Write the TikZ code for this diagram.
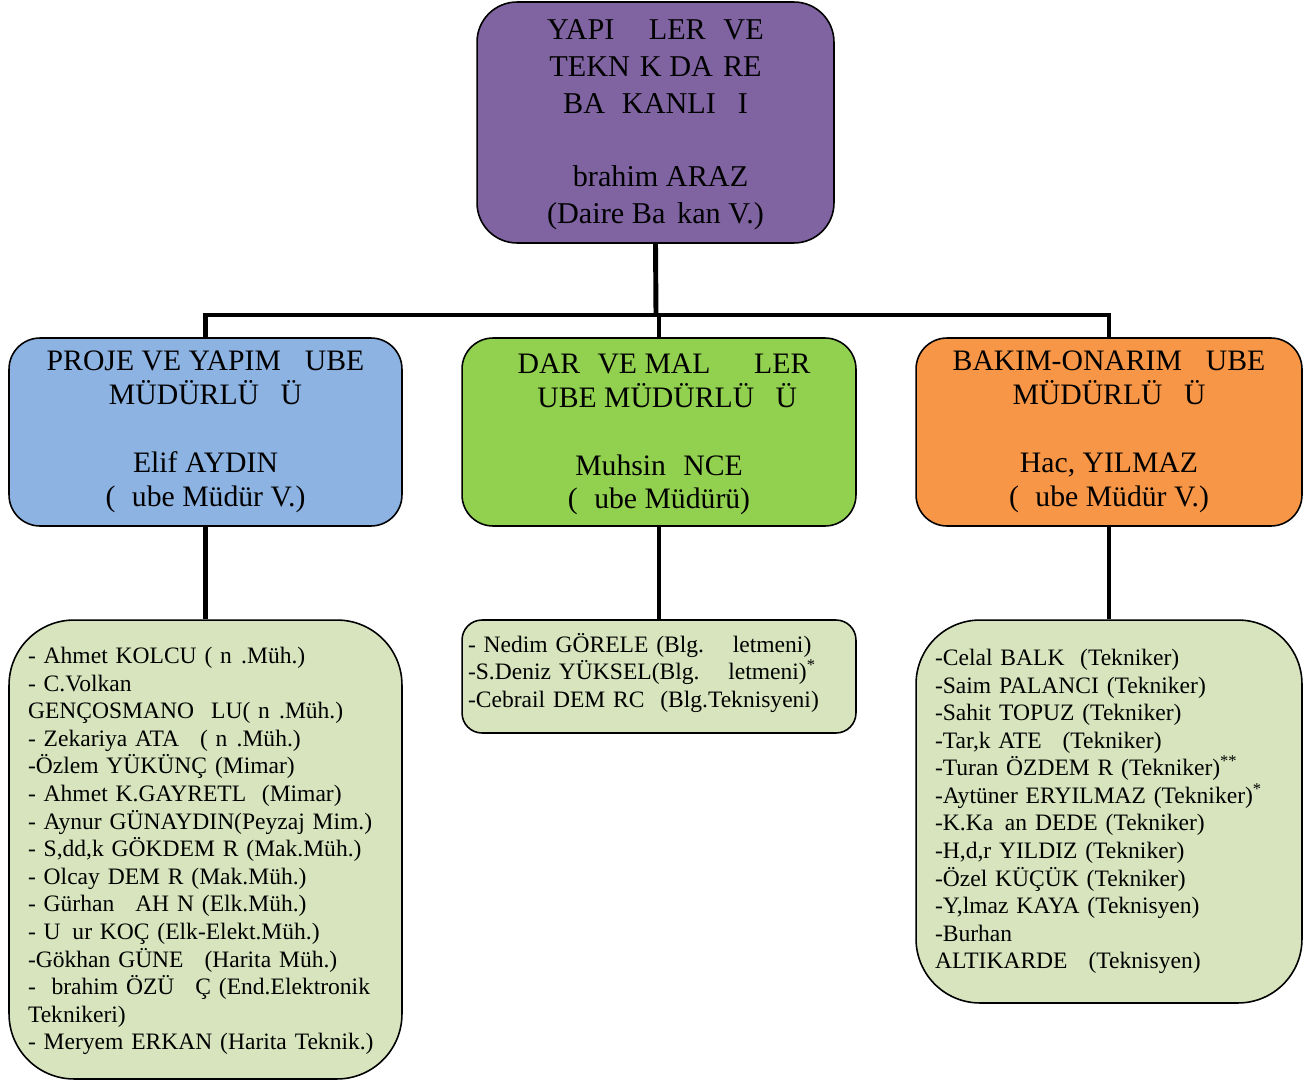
\documentclass[tikz,border=0pt]{standalone}
\usepackage{fontspec}
\setmainfont{Liberation Serif}
\usepackage{xcolor}
\usetikzlibrary{calc}
\definecolor{headviolet}{HTML}{8064A2}
\definecolor{projblue}{HTML}{8DB3E2}
\definecolor{admingreen}{HTML}{92D050}
\definecolor{repairorange}{HTML}{F79646}
\definecolor{staffolive}{HTML}{D7E4BD}
\newcommand{\miss}[1]{\phantom{#1}}
\newcommand{\fn}[1]{\textsuperscript{#1}}

\begin{document}
\begin{tikzpicture}[x=0.02cm,y=-0.02cm,
    unit/.style={draw=black,line width=0.9pt,inner sep=0pt,align=center,font=\fontsize{16.9}{19.3}\selectfont},
    staff/.style={draw=black,line width=0.9pt,fill=staffolive,inner sep=0pt,align=left,font=\fontsize{13.4}{15.7}\selectfont},
    link/.style={line width=2.8pt}]
    % page keeps the size of the chart
    \useasboundingbox (0,0) rectangle (1307,1081);

    % head of the department
    \node[unit,fill=headviolet,minimum width=7.14cm,minimum height=4.82cm,rounded corners=0.8cm,
          font=\fontsize{17.2}{20.9}\selectfont] (head) at (655.5,122.5)
        {YAPI \miss{İŞ}LER\miss{İ} VE\\
         TEKN\miss{İ}K DA\miss{İ}RE\\
         BA\miss{Ş}KANLI\miss{Ğ}I\\[20.9pt]
         \miss{İ}brahim ARAZ\\
         (Daire Ba\miss{ş}kan V.)};

    % the three branches
    \node[unit,fill=projblue,minimum width=7.86cm,minimum height=3.76cm,rounded corners=0.62cm] (proj) at (205.5,432)
        {PROJE VE YAPIM \miss{Ş}UBE\\
         MÜDÜRLÜ\miss{Ğ}Ü\\[19.3pt]
         Elif AYDIN\\
         (\miss{Ş}ube Müdür V.)};
    \node[unit,fill=admingreen,minimum width=7.88cm,minimum height=3.76cm,rounded corners=0.62cm] (admin) at (659,432)
        {\miss{İ}DAR\miss{İ} VE MAL\miss{İ} \miss{İŞ}LER\\
         \miss{Ş}UBE MÜDÜRLÜ\miss{Ğ}Ü\\[19.3pt]
         Muhsin \miss{İ}NCE\\
         (\miss{Ş}ube Müdürü)};
    \node[unit,fill=repairorange,minimum width=7.72cm,minimum height=3.76cm,rounded corners=0.62cm] (repair) at (1109,432)
        {BAKIM-ONARIM \miss{Ş}UBE\\
         MÜDÜRLÜ\miss{Ğ}Ü\\[19.3pt]
         Hac, YILMAZ\\
         (\miss{Ş}ube Müdür V.)};

    % staff lists
    \node[staff,minimum width=7.86cm,minimum height=9.18cm,text width=7.1cm,rounded corners=1.3cm] (projstaff) at (205.5,849.5)
        {- Ahmet KOLCU (\miss{İ}n\miss{ş}.Müh.)\\
         - C.Volkan\\
         GENÇOSMANO\miss{Ğ}LU(\miss{İ}n\miss{ş}.Müh.)\\
         - Zekariya ATA\miss{Ş} (\miss{İ}n\miss{ş}.Müh.)\\
         -Özlem YÜKÜNÇ (Mimar)\\
         - Ahmet K.GAYRETL\miss{İ} (Mimar)\\
         - Aynur GÜNAYDIN(Peyzaj Mim.)\\
         - S,dd,k GÖKDEM\miss{İ}R (Mak.Müh.)\\
         - Olcay DEM\miss{İ}R (Mak.Müh.)\\
         - Gürhan \miss{Ş}AH\miss{İ}N (Elk.Müh.)\\
         - U\miss{ğ}ur KOÇ (Elk-Elekt.Müh.)\\
         -Gökhan GÜNE\miss{Ş} (Harita Müh.)\\
         - \miss{İ}brahim ÖZÜ\miss{Ş} Ç (End.Elektronik\\
         Teknikeri)\\
         - Meryem ERKAN (Harita Teknik.)};
    \node[staff,minimum width=7.88cm,minimum height=2.26cm,text width=7.64cm,rounded corners=0.4cm] (adminstaff) at (659,676.5)
        {- Nedim GÖRELE (Blg. \miss{İş}letmeni)\\
         -S.Deniz YÜKSEL(Blg. \miss{İş}letmeni)\fn{*}\\
         -Cebrail DEM\miss{İ}RC\miss{İ} (Blg.Teknisyeni)\\[-0.3cm]\mbox{}};
    \node[staff,minimum width=7.72cm,minimum height=7.66cm,text width=6.96cm,rounded corners=1.28cm] (repairstaff) at (1109,811.5)
        {-Celal BALK\miss{I} (Tekniker)\\
         -Saim PALANCI (Tekniker)\\
         -Sahit TOPUZ (Tekniker)\\
         -Tar,k ATE\miss{Ş} (Tekniker)\\
         -Turan ÖZDEM\miss{İ}R (Tekniker)\fn{**}\\
         -Aytüner ERYILMAZ (Tekniker)\fn{*}\\
         -K.Ka\miss{ğ}an DEDE (Tekniker)\\
         -H,d,r YILDIZ (Tekniker)\\
         -Özel KÜÇÜK (Tekniker)\\
         -Y,lmaz KAYA (Teknisyen)\\
         -Burhan\\
         ALTIKARDE\miss{Ş} (Teknisyen)};

    % connectors
    \coordinate (bus) at (656,315);
    \draw[link] (head.south) -- (bus);
    \draw[link] (proj.north) |- (bus) -| (repair.north);
    \draw[link] (admin.north) -- (admin.north |- bus);
    \draw[link] (proj.south) -- (projstaff.north);
    \draw[link] (admin.south) -- (adminstaff.north);
    \draw[link] (repair.south) -- (repairstaff.north);
\end{tikzpicture}
\end{document}
